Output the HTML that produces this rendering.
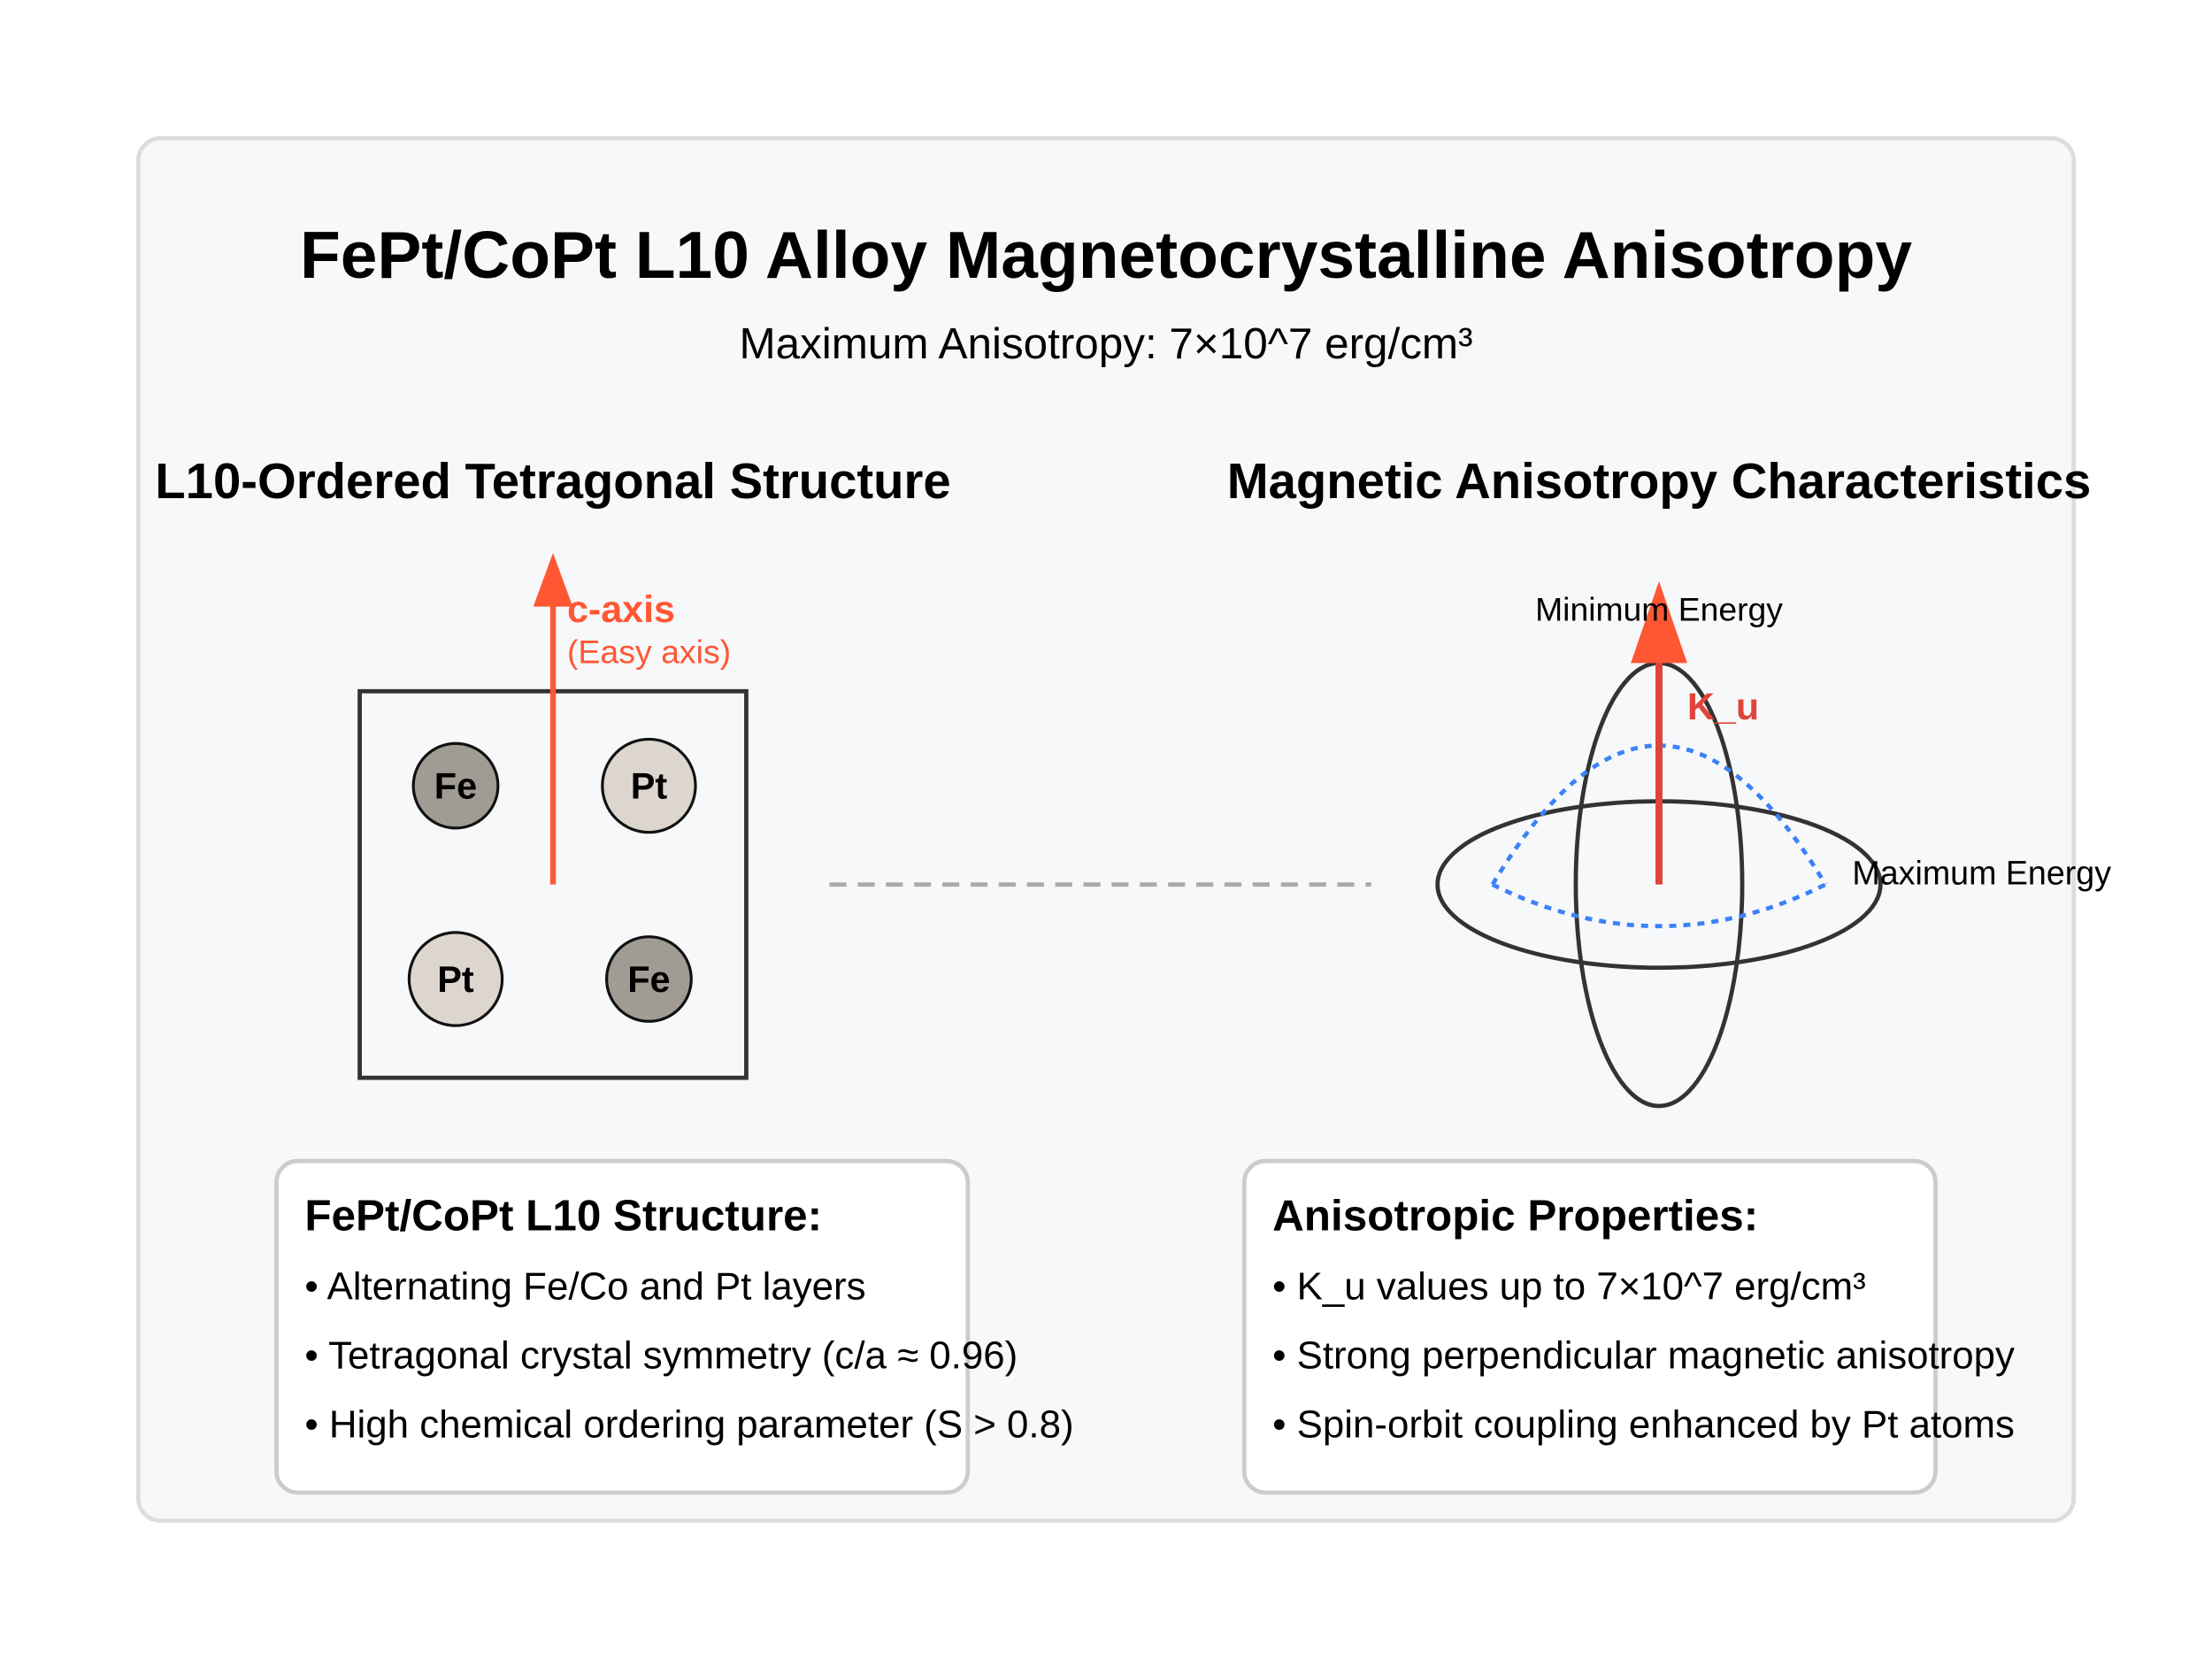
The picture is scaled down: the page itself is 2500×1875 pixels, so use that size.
<!DOCTYPE html>
<html><head><meta charset="utf-8"><style>
html,body{margin:0;padding:0;background:#fff;}
svg{display:block;}
text{font-family:"Liberation Sans",Arial,sans-serif;}
</style></head><body>
<svg width="2500" height="1875" viewBox="0 0 1568 1176" xmlns="http://www.w3.org/2000/svg">
<rect x="0" y="0" width="1568" height="1176" fill="#ffffff"/>
<rect x="98" y="98" width="1372" height="980" rx="16" fill="#f7f8fa" stroke="#dddddd" stroke-width="3"/>
<text x="784" y="197" text-anchor="middle" font-size="47" font-weight="bold" fill="#000">FePt/CoPt L10 Alloy Magnetocrystalline Anisotropy</text>
<text x="784" y="254" text-anchor="middle" font-size="31" fill="#000">Maximum Anisotropy: 7×10^7 erg/cm³</text>
<text x="392" y="353" text-anchor="middle" font-size="35.3" font-weight="bold" fill="#000">L10-Ordered Tetragonal Structure</text>
<text x="1176" y="353" text-anchor="middle" font-size="35.3" font-weight="bold" fill="#000">Magnetic Anisotropy Characteristics</text>

<rect x="255" y="490" width="274" height="274" fill="none" stroke="#333" stroke-width="3"/>
<g><circle cx="323" cy="557" r="30" fill="#a09c94" stroke="#111" stroke-width="2"/><text x="323" y="566" text-anchor="middle" font-size="26" font-weight="bold">Fe</text></g>
<g><circle cx="460" cy="557" r="33" fill="#dcd6cf" stroke="#111" stroke-width="2"/><text x="460" y="566" text-anchor="middle" font-size="26" font-weight="bold">Pt</text></g>
<g><circle cx="323" cy="694" r="33" fill="#dcd6cf" stroke="#111" stroke-width="2"/><text x="323" y="703" text-anchor="middle" font-size="26" font-weight="bold">Pt</text></g>
<g><circle cx="460" cy="694" r="30" fill="#a09c94" stroke="#111" stroke-width="2"/><text x="460" y="703" text-anchor="middle" font-size="26" font-weight="bold">Fe</text></g>

<g>
<line x1="392" y1="627" x2="392" y2="425" stroke="#ff5733" stroke-width="4"/>
<polygon points="392,392 378,430 406,430" fill="#ff5733"/>
</g>
<text x="402" y="441" font-size="27" font-weight="bold" fill="#ff5733">c-axis</text>
<text x="402" y="470" font-size="23.5" fill="#ff5733">(Easy axis)</text>

<line x1="588" y1="627" x2="972" y2="627" stroke="#aaaaaa" stroke-width="3" stroke-dasharray="12,8"/>

<ellipse cx="1176" cy="627" rx="157" ry="59" fill="none" stroke="#333" stroke-width="3"/>
<ellipse cx="1176" cy="627" rx="59" ry="157" fill="none" stroke="#333" stroke-width="3"/>
<path d="M1058 627 Q1176 430 1294 627 M1058 627 Q1176 686 1294 627" fill="none" stroke="#3b82f6" stroke-width="3" stroke-dasharray="5,5"/>
<g>
<line x1="1176" y1="627" x2="1176" y2="465" stroke="#e0453a" stroke-width="5"/>
<polygon points="1176,412 1156,470 1196,470" fill="#ff5733"/>
</g>
<text x="1176" y="440" text-anchor="middle" font-size="23.4" fill="#000">Minimum Energy</text>
<text x="1313" y="627" font-size="23.6" fill="#000">Maximum Energy</text>
<text x="1196" y="510" font-size="27" font-weight="bold" fill="#e0453a">K_u</text>

<g>
<rect x="196" y="823" width="490" height="235" rx="15" fill="#fff" stroke="#cccccc" stroke-width="3"/>
<text x="216" y="872" font-size="31" font-weight="bold">FePt/CoPt L10 Structure:</text>
<text x="216" y="921" font-size="27.5">• Alternating Fe/Co and Pt layers</text>
<text x="216" y="970" font-size="27.5">• Tetragonal crystal symmetry (c/a ≈ 0.96)</text>
<text x="216" y="1019" font-size="27.5">• High chemical ordering parameter (S &gt; 0.8)</text>
</g>
<g>
<rect x="882" y="823" width="490" height="235" rx="15" fill="#fff" stroke="#cccccc" stroke-width="3"/>
<text x="902" y="872" font-size="31" font-weight="bold">Anisotropic Properties:</text>
<text x="902" y="921" font-size="27.5">• K_u values up to 7×10^7 erg/cm³</text>
<text x="902" y="970" font-size="27.5">• Strong perpendicular magnetic anisotropy</text>
<text x="902" y="1019" font-size="27.5">• Spin-orbit coupling enhanced by Pt atoms</text>
</g>
</svg>
</body></html>
